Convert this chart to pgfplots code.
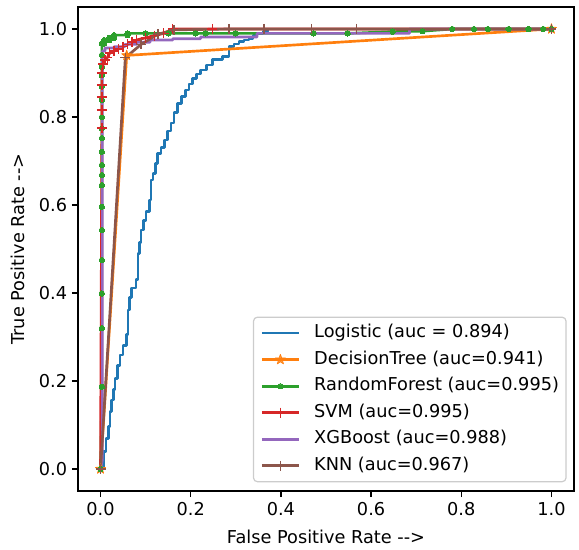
\documentclass[border=0pt]{standalone}
\usepackage{fontspec}
\setmainfont{DejaVu Sans}
\usepackage{pgfplots}
\pgfplotsset{compat=1.18}

\definecolor{mplblue}{HTML}{1F77B4}
\definecolor{mplorange}{HTML}{FF7F0E}
\definecolor{mplgreen}{HTML}{2CA02C}
\definecolor{mplred}{HTML}{D62728}
\definecolor{mplpurple}{HTML}{9467BD}
\definecolor{mplbrown}{HTML}{8C564B}

% filled five-pointed star, like matplotlib's '*'
\pgfdeclareplotmark{fstar}{%
  \pgfpathmoveto{\pgfpointpolar{90}{\pgfplotmarksize}}%
  \pgfpathlineto{\pgfpointpolar{126}{0.40\pgfplotmarksize}}%
  \pgfpathlineto{\pgfpointpolar{162}{\pgfplotmarksize}}%
  \pgfpathlineto{\pgfpointpolar{198}{0.40\pgfplotmarksize}}%
  \pgfpathlineto{\pgfpointpolar{234}{\pgfplotmarksize}}%
  \pgfpathlineto{\pgfpointpolar{270}{0.40\pgfplotmarksize}}%
  \pgfpathlineto{\pgfpointpolar{306}{\pgfplotmarksize}}%
  \pgfpathlineto{\pgfpointpolar{342}{0.40\pgfplotmarksize}}%
  \pgfpathlineto{\pgfpointpolar{18}{\pgfplotmarksize}}%
  \pgfpathlineto{\pgfpointpolar{54}{0.40\pgfplotmarksize}}%
  \pgfpathclose\pgfusepathqfillstroke}

\newcommand{\fs}{\fontsize{13.3}{16}\selectfont}

\begin{document}
\begin{tikzpicture}
\path[use as bounding box] (-58.5pt,-44.25pt) rectangle (375.75pt,368.25pt);
\begin{axis}[
    at={(0,0)}, anchor=south west,
    scale only axis,
    width=372pt, height=363pt,
    xmin=-0.05, xmax=1.05,
    ymin=-0.05, ymax=1.05,
    xtick={0,0.2,0.4,0.6,0.8,1.0},
    ytick={0,0.2,0.4,0.6,0.8,1.0},
    /pgf/number format/.cd, fixed, fixed zerofill, precision=1, assume math mode=true,
    /pgfplots/.cd,
    tick align=outside,
    major tick length=4.65pt,
    tick style={black, line width=1.06pt},
    axis line style={line width=1.06pt},
    xtick pos=bottom, ytick pos=left,
    tick label style={font=\fs},
    xlabel={False Positive Rate {-}{-}>},
    ylabel={True Positive Rate {-}{-}>},
    label style={font=\fs},
    xlabel style={at={(axis description cs:0.5,-0.095)}, anchor=center},
    ylabel style={at={(axis description cs:-0.121,0.5)}, anchor=center},
    every axis plot/.append style={line width=2pt},
    every axis plot post/.append style={line width=2pt, line join=round},
    legend image code/.code={
        \draw[white, line width=0.2pt] (0pt,0pt) -- (0.2pt,0pt);
        \draw[mark repeat=2, mark phase=2, line width=2pt] plot coordinates {(0pt,0pt) (13.9pt,0pt) (27.75pt,0pt)};
    },
    legend cell align=left,
    legend style={
        at={(axis description cs:1,0)}, anchor=south east,
        xshift=-5.5pt, yshift=6.5pt,
        font=\fs,
        draw=black!20, line width=0.9pt, rounded corners=3pt,
        fill=white, fill opacity=0.8, text opacity=1,
        inner sep=5.3pt,
        row sep=6.65pt,
        nodes={inner sep=0pt, text height=9.96pt, text depth=3.3pt},
        /tikz/every odd column/.append style={column sep=10.5pt},
    },
]

% tiny white stroke under the origin, drawn first
\addplot[white, line width=0.2pt, no marks, forget plot] coordinates {(0,0) (0.0005,0)};

% Logistic
\addplot[color=mplblue, line width=2pt, no marks] coordinates {
(0,0) (0.006,0) (0.006,0.04) (0.012,0.04) (0.012,0.07) (0.017,0.07) (0.017,0.096)
(0.021,0.096) (0.021,0.13) (0.024,0.13) (0.024,0.157) (0.028,0.157) (0.028,0.18)
(0.032,0.18) (0.032,0.206) (0.037,0.206) (0.037,0.235) (0.043,0.235) (0.043,0.259)
(0.05,0.259) (0.05,0.28) (0.057,0.28) (0.057,0.305) (0.061,0.305) (0.061,0.361)
(0.064,0.361) (0.064,0.39) (0.068,0.39) (0.068,0.411) (0.079,0.411) (0.079,0.43)
(0.083,0.43) (0.083,0.49) (0.087,0.49) (0.087,0.515) (0.090,0.515) (0.090,0.543)
(0.095,0.543) (0.095,0.565) (0.101,0.565) (0.101,0.585) (0.109,0.585) (0.109,0.611)
(0.112,0.611) (0.112,0.657) (0.116,0.657) (0.116,0.672) (0.122,0.672) (0.122,0.695)
(0.127,0.695) (0.127,0.717) (0.134,0.717) (0.134,0.73) (0.142,0.73) (0.142,0.748)
(0.149,0.748) (0.149,0.768) (0.156,0.768) (0.156,0.786) (0.163,0.786) (0.163,0.81)
(0.171,0.81) (0.171,0.831) (0.18,0.831) (0.18,0.846) (0.189,0.846) (0.189,0.861)
(0.196,0.861) (0.196,0.875) (0.204,0.875) (0.204,0.888) (0.213,0.888) (0.213,0.898)
(0.222,0.898) (0.222,0.907) (0.235,0.907) (0.235,0.918) (0.248,0.918) (0.248,0.93)
(0.270,0.93) (0.270,0.937) (0.285,0.937) (0.285,0.96) (0.296,0.96) (0.296,0.966)
(0.307,0.966) (0.307,0.971) (0.318,0.971) (0.318,0.975) (0.329,0.975) (0.329,0.979)
(0.338,0.979) (0.338,0.985) (0.347,0.985) (0.347,0.990) (0.36,0.990) (0.36,0.995)
(0.37,0.995) (0.37,1) (1,1)
};
\addlegendentry{Logistic (auc = 0.894)}

% DecisionTree
\addplot[color=mplorange, line width=2pt, mark=fstar, mark size=4pt, mark options={line width=0.5pt}] coordinates {
(0,0) (0.058,0.94) (1,1)
};
\addlegendentry{DecisionTree (auc=0.941)}

% RandomForest
\addplot[color=mplgreen, line width=2pt, mark=*, mark size=2pt, mark options={line width=0pt}] coordinates {
(0,0) (0.003,0.187) (0.003,0.32) (0.003,0.399) (0.003,0.475) (0.003,0.543)
(0.003,0.596) (0.003,0.645) (0.003,0.668) (0.003,0.691) (0.003,0.721) (0.003,0.752)
(0.003,0.774) (0.003,0.80) (0.003,0.839) (0.003,0.869) (0.003,0.895) (0.003,0.914)
(0.003,0.941) (0.003,0.967) (0.008,0.967) (0.008,0.975) (0.02,0.975) (0.02,0.98)
(0.03,0.98) (0.03,0.986) (0.06,0.986) (0.06,0.99) (0.1,0.99) (0.15,0.99)
(0.211,0.99) (0.233,0.99) (0.3,0.99) (0.472,0.99) (0.548,0.99) (0.648,0.994)
(0.714,0.995) (0.78,1) (0.828,1) (0.859,1) (0.905,1) (0.949,1) (0.982,1) (1,1)
};
\addlegendentry{RandomForest (auc=0.995)}

% SVM
\addplot[color=mplred, line width=2pt, mark=+, mark size=3.75pt, mark options={line width=1.2pt}] coordinates {
(0,0) (0.003,0.775) (0.003,0.816) (0.003,0.846) (0.003,0.873) (0.003,0.9)
(0.006,0.92) (0.01,0.93) (0.015,0.935) (0.02,0.945) (0.03,0.95) (0.04,0.955)
(0.05,0.96) (0.06,0.965) (0.07,0.97) (0.08,0.975) (0.1,0.98) (0.12,0.985)
(0.14,0.99) (0.16,1) (0.248,1) (1,1)
};
\addlegendentry{SVM (auc=0.995)}

% XGBoost
\addplot[color=mplpurple, line width=2pt, no marks] coordinates {
(0,0) (0.004,0.02) (0.004,0.95) (0.01,0.95) (0.01,0.957) (0.03,0.957) (0.03,0.96)
(0.054,0.96) (0.054,0.965) (0.08,0.965) (0.08,0.97) (0.11,0.97) (0.11,0.975)
(0.16,0.975) (0.16,0.978) (0.222,0.978) (0.222,0.982) (0.347,0.982) (0.347,0.99)
(0.685,0.99) (0.685,1) (1,1)
};
\addlegendentry{XGBoost (auc=0.988)}

% KNN
\addplot[color=mplbrown, line width=2pt, mark=+, mark size=3.75pt, mark options={line width=1.2pt}] coordinates {
(0,0) (0.055,0.935) (0.09,0.965) (0.127,0.988) (0.163,0.998) (0.285,1)
(0.362,1) (0.468,1) (0.568,1) (1,1)
};
\addlegendentry{KNN (auc=0.967)}

\end{axis}
\end{tikzpicture}
\end{document}
